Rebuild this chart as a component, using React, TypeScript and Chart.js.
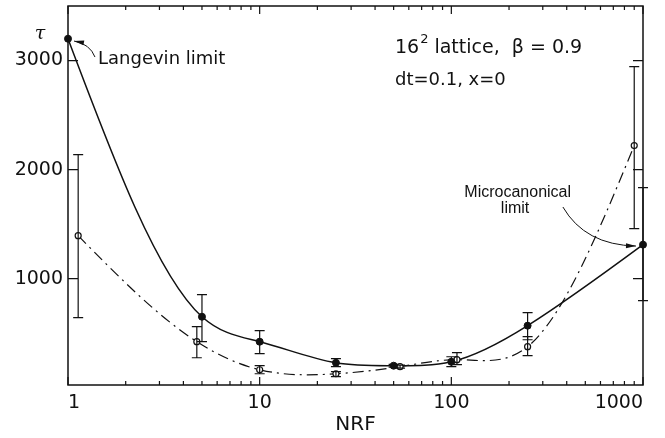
import React, { useEffect, useRef } from 'react';
import { Chart, registerables } from 'chart.js';

Chart.register(...registerables);

// ---- data ----
const filledX = [1, 5, 10, 25, 50, 100, 250, 1000];
const filledY = [3200, 651, 422, 229, 202, 238, 569, 1312];
const filledErrLo: (number | null)[] = [null, 422, 312, 193, 188, 193, 440, 798];
const filledErrHi: (number | null)[] = [null, 853, 523, 266, 214, 284, 688, 1835];

const openX = [1.13, 4.7, 10, 25, 54, 107, 250, 900];
const openY = [1394, 422, 165, 128, 193, 257, 376, 2220];
const openErrLo: (number | null)[] = [642, 275, 128, 101, 180, 211, 294, 1459];
const openErrHi: (number | null)[] = [2138, 560, 202, 147, 208, 321, 468, 2945];

const xTicks = [1, 10, 100, 1000];
const xMinorMultipliers = [2, 3, 4, 5, 6, 7, 8, 9];
const yTicks = [1000, 2000, 3000];

const xMin = 1;
const xMax = 1000;
const yMin = 25;
const yMax = 3500;

const FONT = "'DejaVu Sans', 'Liberation Sans', sans-serif";
const NARROW = "'Liberation Sans', Arial, sans-serif";

// annotations in data coordinates
const notes = [
  { text: 'Langevin limit', x: 1.434, y: 3014, align: 'left', font: `18px ${FONT}` },
  { text: 'dt=0.1, x=0', x: 50.8, y: 2821, align: 'left', font: `18px ${FONT}` },
  { text: 'Microcanonical', x: 222, y: 1785, align: 'center', font: `16px ${NARROW}` },
  { text: 'limit', x: 215, y: 1639, align: 'center', font: `16px ${NARROW}` },
];
const headX = 50.8;
const headY = 3115;
const arrows = [
  { from: [1.383, 3032], ctrl: [1.303, 3151], to: [1.075, 3179] },
  { from: [382, 1657], ctrl: [498, 1309], to: [919, 1299] },
];

const INK = '#111';

function errorBars(chart: any, xs: number[], lo: (number | null)[], hi: (number | null)[]) {
  const { ctx, scales } = chart;
  const sx = scales.x;
  const sy = scales.y;
  xs.forEach((xv, i) => {
    const l = lo[i];
    const h = hi[i];
    if (l == null || h == null) return;
    const px = sx.getPixelForValue(xv);
    const p1 = sy.getPixelForValue(l);
    const p2 = sy.getPixelForValue(h);
    ctx.beginPath();
    ctx.moveTo(px, p1);
    ctx.lineTo(px, p2);
    ctx.moveTo(px - 5, p1);
    ctx.lineTo(px + 5, p1);
    ctx.moveTo(px - 5, p2);
    ctx.lineTo(px + 5, p2);
    ctx.stroke();
  });
}

// smooth natural cubic spline through the data points (pixel space, via the scales)
function splinePath(chart: any, xs: number[], ys: number[]) {
  const { ctx, scales } = chart;
  const px = xs.map((v) => scales.x.getPixelForValue(v));
  const py = ys.map((v) => scales.y.getPixelForValue(v));
  const n = px.length;
  const h: number[] = [];
  const d: number[] = [];
  for (let i = 0; i < n - 1; i++) {
    h.push(px[i + 1] - px[i]);
    d.push((py[i + 1] - py[i]) / h[i]);
  }
  const M = new Array(n).fill(0);
  const m = n - 2;
  if (m > 0) {
    const a: number[] = [], b: number[] = [], c: number[] = [], r: number[] = [];
    for (let i = 1; i <= m; i++) {
      a.push(h[i - 1]);
      b.push(2 * (h[i - 1] + h[i]));
      c.push(h[i]);
      r.push(6 * (d[i] - d[i - 1]));
    }
    for (let i = 1; i < m; i++) {
      const w = a[i] / b[i - 1];
      b[i] -= w * c[i - 1];
      r[i] -= w * r[i - 1];
    }
    const sol = new Array(m).fill(0);
    sol[m - 1] = r[m - 1] / b[m - 1];
    for (let i = m - 2; i >= 0; i--) sol[i] = (r[i] - c[i] * sol[i + 1]) / b[i];
    for (let i = 0; i < m; i++) M[i + 1] = sol[i];
  }
  ctx.beginPath();
  ctx.moveTo(px[0], py[0]);
  for (let i = 0; i < n - 1; i++) {
    const s0 = d[i] - (h[i] * (2 * M[i] + M[i + 1])) / 6;
    const s1 = d[i] + (h[i] * (M[i] + 2 * M[i + 1])) / 6;
    ctx.bezierCurveTo(
      px[i] + h[i] / 3, py[i] + (s0 * h[i]) / 3,
      px[i + 1] - h[i] / 3, py[i + 1] - (s1 * h[i]) / 3,
      px[i + 1], py[i + 1]
    );
  }
  ctx.stroke();
}

const decorPlugin = {
  id: 'decor',
  beforeDatasetsDraw(chart: any) {
    const { ctx } = chart;
    ctx.save();
    ctx.strokeStyle = INK;
    ctx.lineWidth = 1.5;
    splinePath(chart, filledX, filledY);
    ctx.lineWidth = 1.2;
    ctx.setLineDash([11, 5, 2, 5]);
    splinePath(chart, openX, openY);
    ctx.restore();
  },
  afterDatasetsDraw(chart: any) {
    const { ctx, chartArea: a, scales } = chart;
    const sx = scales.x;
    const sy = scales.y;
    ctx.save();
    ctx.strokeStyle = INK;
    ctx.fillStyle = INK;
    ctx.lineWidth = 1.5;
    ctx.strokeRect(a.left, a.top, a.right - a.left, a.bottom - a.top);

    // inward ticks
    ctx.lineWidth = 1.2;
    ctx.beginPath();
    xTicks.forEach((dv) => {
      const p = sx.getPixelForValue(dv);
      ctx.moveTo(p, a.bottom); ctx.lineTo(p, a.bottom - 8);
      ctx.moveTo(p, a.top); ctx.lineTo(p, a.top + 8);
      if (dv < xMax) {
        xMinorMultipliers.forEach((mm) => {
          const pm = sx.getPixelForValue(dv * mm);
          ctx.moveTo(pm, a.bottom); ctx.lineTo(pm, a.bottom - 4);
          ctx.moveTo(pm, a.top); ctx.lineTo(pm, a.top + 4);
        });
      }
    });
    yTicks.forEach((v) => {
      const p = sy.getPixelForValue(v);
      ctx.moveTo(a.left, p); ctx.lineTo(a.left + 10, p);
      ctx.moveTo(a.right, p); ctx.lineTo(a.right - 10, p);
    });
    ctx.stroke();

    // error bars
    ctx.lineWidth = 1.2;
    errorBars(chart, filledX, filledErrLo, filledErrHi);
    errorBars(chart, openX, openErrLo, openErrHi);

    // tau label
    ctx.font = "italic 19px 'DejaVu Serif', serif";
    ctx.textAlign = 'center';
    ctx.textBaseline = 'middle';
    ctx.fillText('\u03C4', a.left - 28, a.top + 28);

    // heading with superscript
    let hx = sx.getPixelForValue(headX);
    const hy = sy.getPixelForValue(headY);
    ctx.textAlign = 'left';
    ctx.font = `19px ${FONT}`;
    ctx.fillText('16', hx, hy);
    hx += ctx.measureText('16').width + 1;
    ctx.font = `13px ${FONT}`;
    ctx.fillText('2', hx, hy - 8);
    hx += ctx.measureText('2').width;
    ctx.font = `19px ${FONT}`;
    ctx.fillText(' lattice,  \u03B2 = 0.9', hx, hy);

    // notes
    notes.forEach((nt) => {
      ctx.font = nt.font;
      ctx.textAlign = nt.align as CanvasTextAlign;
      ctx.fillText(nt.text, sx.getPixelForValue(nt.x), sy.getPixelForValue(nt.y));
    });

    // arrows
    ctx.lineWidth = 1;
    arrows.forEach((ar) => {
      const f = [sx.getPixelForValue(ar.from[0]), sy.getPixelForValue(ar.from[1])];
      const c = [sx.getPixelForValue(ar.ctrl[0]), sy.getPixelForValue(ar.ctrl[1])];
      const t = [sx.getPixelForValue(ar.to[0]), sy.getPixelForValue(ar.to[1])];
      ctx.beginPath();
      ctx.moveTo(f[0], f[1]);
      ctx.quadraticCurveTo(c[0], c[1], t[0], t[1]);
      ctx.stroke();
      const ang = Math.atan2(t[1] - c[1], t[0] - c[0]);
      const L = 10, W = 2.5;
      ctx.beginPath();
      ctx.moveTo(t[0], t[1]);
      ctx.lineTo(t[0] - L * Math.cos(ang) + W * Math.sin(ang), t[1] - L * Math.sin(ang) - W * Math.cos(ang));
      ctx.lineTo(t[0] - L * Math.cos(ang) - W * Math.sin(ang), t[1] - L * Math.sin(ang) + W * Math.cos(ang));
      ctx.closePath();
      ctx.fill();
    });
    ctx.restore();
  },
};

export default function App() {
  const ref = useRef<HTMLCanvasElement | null>(null);
  useEffect(() => {
    if (!ref.current) return;
    const chart = new Chart(ref.current, {
      type: 'line',
      data: {
        datasets: [
          {
            label: 'filled',
            data: filledX.map((x, i) => ({ x, y: filledY[i] })),
            showLine: false,
            borderColor: INK,
            backgroundColor: INK,
            pointRadius: 3.5,
            pointBackgroundColor: INK,
            pointBorderColor: INK,
            clip: false as any,
          },
          {
            label: 'open',
            data: openX.map((x, i) => ({ x, y: openY[i] })),
            showLine: false,
            borderColor: INK,
            pointRadius: 3,
            pointBackgroundColor: '#fff',
            pointBorderColor: INK,
            pointBorderWidth: 1.2,
            clip: false as any,
          },
        ],
      },
      options: {
        responsive: false,
        animation: false,
        layout: { padding: { top: 6, right: 22, left: 0, bottom: 0 } },
        plugins: { legend: { display: false }, tooltip: { enabled: false } },
        scales: {
          x: {
            type: 'logarithmic',
            min: xMin,
            max: xMax,
            grid: { display: false, drawTicks: false },
            border: { display: false },
            afterBuildTicks: (s: any) => { s.ticks = xTicks.map((v) => ({ value: v })); },
            afterFit: (s: any) => { s.height = 53; s.paddingLeft = 0; s.paddingRight = 0; },
            ticks: {
              autoSkip: false,
              maxRotation: 0,
              align: 'inner',
              padding: 7,
              color: INK,
              font: { family: FONT, size: 19 },
              callback: (v: any) => String(v),
            },
            title: {
              display: true,
              text: 'NRF',
              color: INK,
              font: { family: FONT, size: 20 },
              padding: { top: 0, bottom: 1 },
            },
          },
          y: {
            type: 'linear',
            min: yMin,
            max: yMax,
            grid: { display: false, drawTicks: false },
            border: { display: false },
            afterBuildTicks: (s: any) => { s.ticks = yTicks.map((v) => ({ value: v })); },
            afterFit: (s: any) => { s.width = 68; s.paddingTop = 0; s.paddingBottom = 0; },
            ticks: {
              padding: 5,
              color: INK,
              font: { family: FONT, size: 19 },
              callback: (v: any) => String(v),
            },
          },
        },
      },
      plugins: [decorPlugin],
    } as any);
    return () => chart.destroy();
  }, []);
  return (
    <div style={{ position: 'fixed', left: 0, top: 0, width: 665, height: 438, background: '#fff' }}>
      <canvas ref={ref} width={665} height={438} />
    </div>
  );
}
